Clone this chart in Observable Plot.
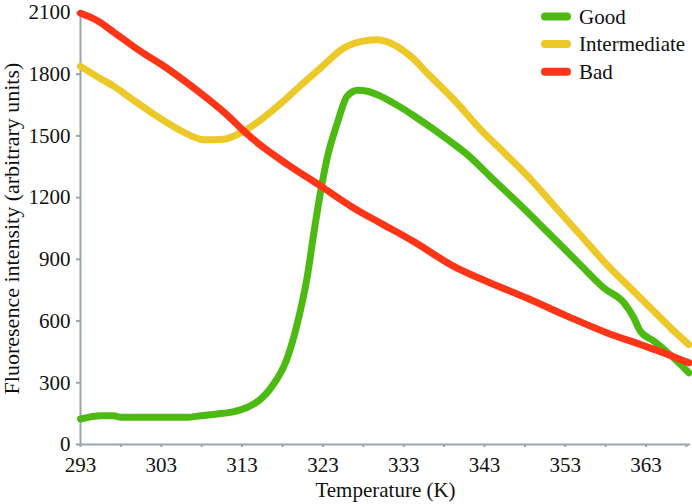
<!DOCTYPE html>
<html>
<head>
<meta charset="utf-8">
<script src="https://cdn.jsdelivr.net/npm/d3@7"></script>
<script src="https://cdn.jsdelivr.net/npm/@observablehq/plot@0.6"></script>
<style>
  html, body { margin: 0; padding: 0; background: #fff; }
</style>
</head>
<body>
<div id="wrap"></div>
<script>
const seriesNames = ["Good", "Intermediate", "Bad"];
const seriesColors = ["#4dba14", "#ecc828", "#ff3517"];

const goodT = [293, 295.5, 297.1, 298, 306.2, 307.9, 309.9, 312, 313.6, 314.5, 315.5, 316.5, 318.6, 319.8, 321.1, 321.9, 322.7, 323.5, 324.8, 326.0, 327.3, 328.5, 330.2, 331.5, 332.6, 334.3, 338.4, 341.3, 343.8, 347.9, 350.8, 354.9, 357.8, 360.3, 361.5, 362.3, 364.0, 365.7, 368.3];
const goodV = [124, 140, 140, 132, 132, 140, 148, 160, 180, 198, 228, 272, 421, 583, 824, 1033, 1226, 1387, 1564, 1693, 1722, 1717, 1692, 1665, 1640, 1597, 1484, 1395, 1299, 1146, 1033, 872, 760, 687, 615, 550, 502, 446, 349];

const interT = [293, 295.5, 297.1, 299.2, 302.1, 305.4, 308.3, 310.7, 312.8, 315.3, 317.8, 320.2, 322.7, 325.6, 328.1, 329.7, 331.4, 333.9, 336.3, 339.2, 342.5, 345.4, 348.3, 351.6, 354.9, 358.2, 361.5, 364.4, 366.5, 368.3];
const interV = [1838, 1778, 1742, 1684, 1605, 1526, 1481, 1484, 1514, 1578, 1658, 1744, 1830, 1927, 1962, 1968, 1951, 1886, 1790, 1677, 1532, 1420, 1307, 1162, 1017, 872, 744, 631, 550, 486];

const badT = [293, 295.1, 297.1, 300.4, 303.3, 306.2, 308.7, 311.2, 313.2, 315.7, 318.6, 322.7, 326.8, 330.2, 334.3, 339.2, 343.8, 348.3, 353.3, 358.2, 362.3, 365.7, 368.3];
const badV = [2096, 2060, 2005, 1912, 1840, 1758, 1682, 1600, 1525, 1442, 1362, 1257, 1150, 1075, 985, 866, 784, 711, 623, 542, 486, 438, 397];

const xTicks = d3.range(293, 369, 5);
const yTicks = d3.range(0, 2101, 300);

const rows = [];
[[goodT, goodV], [interT, interV], [badT, badV]].forEach(([ts, vs], i) => {
  ts.forEach((t, j) => rows.push({series: seriesNames[i], t, v: vs[j]}));
});

const axisColor = "#97a6ab";
const serif = "'Liberation Serif', 'Times New Roman', serif";

const chart = Plot.plot({
  width: 692,
  height: 504,
  marginLeft: 80,
  marginRight: 2,
  marginTop: 12,
  marginBottom: 60,
  style: {fontFamily: serif, fontSize: "21px", color: "#111", background: "#fff"},
  x: {domain: [293, 368.5], ticks: xTicks, tickSize: 3, tickPadding: 10,
      tickFormat: d => ((d - 293) % 10 === 0 ? String(d) : ""),
      label: "Temperature (K)", labelArrow: "none", labelAnchor: "center", labelOffset: 52},
  y: {domain: [0, 2100], ticks: yTicks, tickSize: 4, tickPadding: 6, tickFormat: d => String(d),
      label: "Fluoresence intensity (arbitrary units)", labelArrow: "none", labelAnchor: "center", labelOffset: 77},
  color: {domain: seriesNames, range: seriesColors},
  marks: [
    Plot.ruleY([0], {stroke: axisColor, strokeWidth: 2}),
    Plot.ruleX([293], {stroke: axisColor, strokeWidth: 2}),
    Plot.line(rows, {x: "t", y: "v", z: "series", stroke: "series", strokeWidth: 7, curve: "monotone-x", strokeLinecap: "round", strokeLinejoin: "round"})
  ]
});
chart.querySelectorAll('g[aria-label="x-axis tick"], g[aria-label="y-axis tick"]').forEach(g => { g.setAttribute("stroke", axisColor); g.setAttribute("stroke-width", 2); });
chart.querySelectorAll('g[aria-label="y-axis label"] text').forEach(t => t.setAttribute("font-size", "22px"));
document.getElementById("wrap").appendChild(chart);

// legend inside the svg
const svg = d3.select(chart);
const lg = svg.append("g").attr("font-family", serif).attr("font-size", "21px").attr("fill", "#111").attr("text-anchor", "start");
seriesNames.forEach((n, i) => {
  const cy = 16.5 + i * 27.6;
  lg.append("line").attr("x1", 545).attr("x2", 567).attr("y1", cy).attr("y2", cy)
    .attr("stroke", seriesColors[i]).attr("stroke-width", 8).attr("stroke-linecap", "round");
  lg.append("text").attr("x", 579).attr("y", cy).attr("dy", "0.35em").attr("text-anchor", "start").text(n);
});
</script>
</body>
</html>
